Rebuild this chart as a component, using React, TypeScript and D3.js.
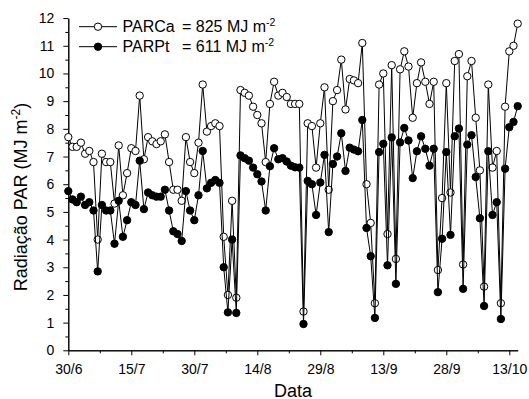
import { useEffect, useRef } from 'react';
import * as d3 from 'd3';

// daily PAR values, one per day starting 30/6
const parCa = [
  7.7, 7.35, 7.35, 7.5, 7.1, 7.2, 6.8, 4.0, 7.1, 6.8,
  6.8, 5.3, 7.4, 5.6, 6.4, 7.3, 7.2, 9.2, 6.9, 7.7,
  7.55, 7.45, 7.55, 7.8, 6.8, 5.8, 5.8, 5.4, 7.7, 6.8,
  6.4, 7.5, 9.6, 7.9, 8.1, 8.2, 8.1, 4.1, 2.0, 5.4,
  1.9, 9.4, 9.3, 9.2, 8.8, 8.5, 8.2, 6.8, 8.9, 9.7,
  9.2, 9.3, 9.15, 8.9, 8.9, 8.9, 1.4, 8.2, 8.1, 6.6,
  8.2, 9.5, 5.8, 9.0, 9.4, 10.5, 8.7, 9.8, 9.75, 9.65,
  11.1, 6.0, 4.6, 1.7, 9.6, 10.0, 4.2, 10.3, 3.3, 10.15,
  10.8, 10.25, 8.4, 9.65, 10.4, 9.7, 8.9, 9.7, 2.9, 5.5,
  9.65, 5.7, 10.45, 10.7, 3.1, 9.9, 10.45, 8.4, 6.5, 2.3,
  9.6, 6.6, 7.2, 1.7, 8.8, 10.8, 11.0, 11.8,
];

const parPt = [
  5.75, 5.45, 5.35, 5.55, 5.25, 5.35, 5.05, 2.85, 5.25, 5.05,
  5.05, 3.85, 5.4, 4.1, 4.7, 5.35, 5.25, 6.85, 5.1, 5.7,
  5.6, 5.55, 5.55, 5.8, 5.05, 4.3, 4.2, 3.95, 5.75, 5.05,
  4.7, 5.6, 7.2, 5.85, 6.05, 6.15, 6.05, 3.0, 1.37, 4.0,
  1.35, 7.04, 6.94, 6.85, 6.6, 6.36, 6.1, 5.05, 6.65, 7.3,
  6.9, 6.94, 6.82, 6.67, 6.61, 6.6, 0.95, 6.12, 6.0, 4.89,
  6.06, 7.06, 4.27, 6.73, 7.0, 7.84, 6.48, 7.32, 7.25, 7.19,
  8.32, 4.42, 3.4, 1.17, 7.16, 7.46, 3.07, 7.69, 2.4, 7.51,
  8.03, 7.58, 6.22, 7.19, 7.73, 7.28, 6.67, 7.28, 2.1, 4.03,
  7.16, 4.17, 7.73, 8.01, 2.22, 7.43, 7.77, 6.26, 4.77, 1.6,
  7.19, 4.89, 5.35, 1.13, 6.56, 8.06, 8.25, 8.82,
];

const xTickLabels = ['30/6', '15/7', '30/7', '14/8', '29/8', '13/9', '28/9', '13/10'];
const xTickDays = [0, 15, 30, 45, 60, 75, 90, 105];
const yTickValues = [0, 1, 2, 3, 4, 5, 6, 7, 8, 9, 10, 11, 12];
const legendNames = ['PARCa', 'PARPt'];
const legendTotals = ['= 825 MJ m', '= 611 MJ m'];

const FONT = '"Liberation Sans", Arial, sans-serif';

const App = () => {
  const svgRef = useRef(null);
  const width = 529;
  const height = 399;

  useEffect(() => {
    const svg = d3.select(svgRef.current);
    svg.selectAll('*').remove();

    const x = d3.scaleLinear().domain([0, 107]).range([68.3, 517.7]);
    const y = d3.scaleLinear().domain([0, 12]).range([350.3, 18.1]);

    // y axis, major + minor
    const yMajor = svg
      .append('g')
      .attr('transform', `translate(${x(0)},0)`)
      .call(
        d3.axisLeft(y).tickValues(yTickValues).tickSize(5).tickSizeOuter(0).tickPadding(9)
      );
    svg
      .append('g')
      .attr('transform', `translate(${x(0)},0)`)
      .call(
        d3
          .axisLeft(y)
          .tickValues(yTickValues.slice(0, -1).map((v) => v + 0.5))
          .tickSize(3)
          .tickSizeOuter(0)
          .tickFormat(() => '')
      );

    // x axis, major + minor
    const xMajor = svg
      .append('g')
      .attr('transform', `translate(0,${y(0)})`)
      .call(
        d3
          .axisBottom(x)
          .tickValues(xTickDays)
          .tickSize(5)
          .tickSizeOuter(0)
          .tickPadding(9)
          .tickFormat((d, i) => xTickLabels[i])
      );
    svg
      .append('g')
      .attr('transform', `translate(0,${y(0)})`)
      .call(
        d3
          .axisBottom(x)
          .tickValues(xTickDays.slice(0, -1).map((v) => v + 7.5))
          .tickSize(3)
          .tickSizeOuter(0)
          .tickFormat(() => '')
      );

    svg.selectAll('.domain').attr('stroke', '#000').attr('stroke-width', 1);
    svg.selectAll('.tick line').attr('stroke', '#000').attr('stroke-width', 1);
    [yMajor, xMajor].forEach((g) =>
      g
        .selectAll('text')
        .attr('font-family', FONT)
        .attr('font-size', 14)
        .attr('fill', '#000')
    );

    const gLine = d3
      .line()
      .x((d, i) => x(i))
      .y((d) => y(d));

    const series = [
      { values: parCa, fill: '#fff' },
      { values: parPt, fill: '#000' },
    ];

    series.forEach((s) => {
      svg
        .append('path')
        .attr('fill', 'none')
        .attr('stroke', '#000')
        .attr('stroke-width', 1)
        .attr('d', gLine(s.values));
      svg
        .append('g')
        .selectAll('circle')
        .data(s.values)
        .enter()
        .append('circle')
        .attr('cx', (d, i) => x(i))
        .attr('cy', (d) => y(d))
        .attr('r', 3.7)
        .attr('fill', s.fill)
        .attr('stroke', '#000')
        .attr('stroke-width', 1);
    });

    // legend
    const legend = svg.append('g');
    series.forEach((s, i) => {
      const ly = 26.7 + i * 20;
      legend
        .append('line')
        .attr('x1', 79)
        .attr('x2', 117)
        .attr('y1', ly)
        .attr('y2', ly)
        .attr('stroke', '#000')
        .attr('stroke-width', 1);
      legend
        .append('circle')
        .attr('cx', 98)
        .attr('cy', ly)
        .attr('r', 3.7)
        .attr('fill', s.fill)
        .attr('stroke', '#000');
      legend
        .append('text')
        .attr('x', 122.5)
        .attr('y', ly + 5.5)
        .attr('font-family', FONT)
        .attr('font-size', 16)
        .text(legendNames[i]);
      const t = legend
        .append('text')
        .attr('x', 182)
        .attr('y', ly + 5.5)
        .attr('font-family', FONT)
        .attr('font-size', 16);
      t.append('tspan').text(legendTotals[i]);
      t.append('tspan').attr('dy', -6).attr('font-size', 10.5).text('-2');
    });

    // axis titles
    svg
      .append('text')
      .attr('x', x(53.5))
      .attr('y', 396.5)
      .attr('text-anchor', 'middle')
      .attr('font-family', FONT)
      .attr('font-size', 18)
      .text('Data');

    const yt = svg
      .append('text')
      .attr('transform', 'translate(26.5,197) rotate(-90)')
      .attr('text-anchor', 'middle')
      .attr('font-family', FONT)
      .attr('font-size', 18);
    yt.append('tspan').text('Radiação PAR (MJ m');
    yt.append('tspan').attr('dy', -7).attr('font-size', 12).text('-2');
    yt.append('tspan').attr('dy', 7).text(')');
  }, []);

  return (
    <svg
      ref={svgRef}
      width={width}
      height={height}
      style={{ position: 'absolute', left: 0, top: 0, background: '#fff' }}
    />
  );
};

export default App;
